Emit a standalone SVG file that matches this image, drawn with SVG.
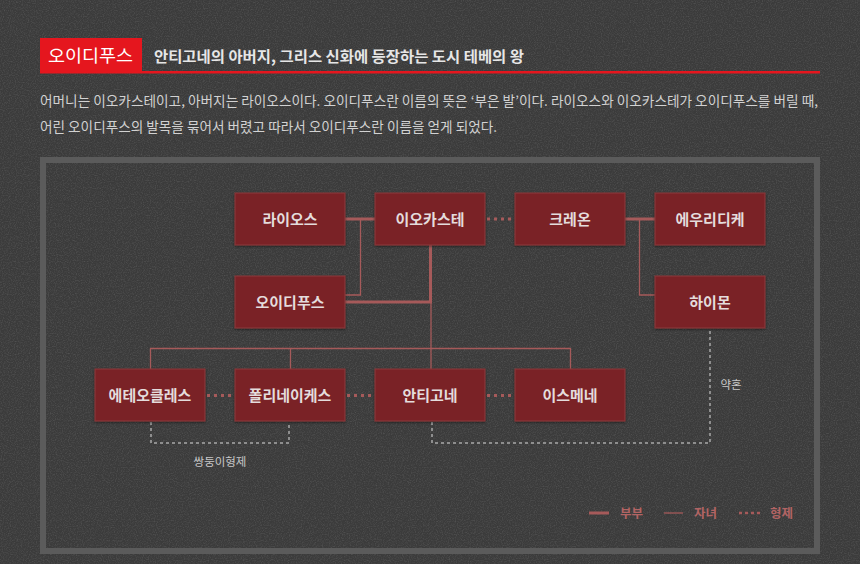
<svg xmlns="http://www.w3.org/2000/svg" width="860" height="564" viewBox="0 0 860 564">
<defs>
<filter id="noise" x="0" y="0" width="100%" height="100%">
<feTurbulence type="fractalNoise" baseFrequency="0.85" numOctaves="2" stitchTiles="stitch" result="t"/>
<feColorMatrix in="t" type="matrix" values="0 0 0 0 1  0 0 0 0 1  0 0 0 0 1  1.2 0 0 0 -0.5"/>
<feComponentTransfer><feFuncA type="linear" slope="0.2"/></feComponentTransfer>
</filter>
<filter id="nshadow" x="-10%" y="-10%" width="120%" height="130%">
<feDropShadow dx="0" dy="1" stdDeviation="0.8" flood-color="#000" flood-opacity="0.5"/>
</filter>
</defs>
<style>
.kr{font-family:"Noto Sans CJK KR","Noto Sans",sans-serif}
.node rect{fill:#7a2226;stroke:#8c3a3b;stroke-width:1}
.node text{font-family:"Noto Sans CJK KR","Noto Sans",sans-serif;font-size:15px;font-weight:bold;fill:#e4dcdc;text-anchor:middle}
.thick{stroke:#a65a5a;stroke-width:3;fill:none}
.thin{stroke:#a65a5a;stroke-width:1.3;fill:none}
.sib{stroke:#a65a5a;stroke-width:3;stroke-dasharray:3 4;fill:none}
.gray{stroke:#8e8e8e;stroke-width:2;stroke-dasharray:3 3;fill:none}
.lbl{font-family:"Noto Sans CJK KR","Noto Sans",sans-serif;font-size:11.5px;fill:#c8c8c8;text-anchor:middle}
.leg{font-family:"Noto Sans CJK KR","Noto Sans",sans-serif;font-size:12.5px;font-weight:bold;fill:#b26464}
</style>
<rect width="860" height="564" fill="#3b3b3b"/>
<rect width="860" height="564" filter="url(#noise)"/>

<g id="header">
<rect x="40" y="38" width="102" height="35" fill="#e5161e"/>
<rect x="40" y="71" width="780" height="2.5" fill="#e5161e"/>
<text x="48" y="62" class="kr" font-size="17.5" fill="#ffffff" textLength="85" lengthAdjust="spacingAndGlyphs">오이디푸스</text>
<text x="154" y="62" class="kr" font-size="15" font-weight="bold" fill="#e6e6e6" textLength="370" lengthAdjust="spacingAndGlyphs">안티고네의 아버지, 그리스 신화에 등장하는 도시 테베의 왕</text>
<text x="40" y="106" class="kr" font-size="13.5" fill="#d2d2d2" textLength="778" lengthAdjust="spacingAndGlyphs">어머니는 이오카스테이고, 아버지는 라이오스이다. 오이디푸스란 이름의 뜻은 ‘부은 발’이다. 라이오스와 이오카스테가 오이디푸스를 버릴 때,</text>
<text x="40" y="132" class="kr" font-size="13.5" fill="#d2d2d2" textLength="457" lengthAdjust="spacingAndGlyphs">어린 오이디푸스의 발목을 묶어서 버렸고 따라서 오이디푸스란 이름을 얻게 되었다.</text>
</g>

<rect x="43" y="160" width="774" height="391" fill="none" stroke="#5b5b5b" stroke-width="6"/>

<g id="connectors">
<line class="thick" x1="345" y1="219" x2="375" y2="219"/>
<line class="thick" x1="625" y1="219" x2="655" y2="219"/>
<line class="sib" x1="487" y1="219" x2="515" y2="219"/>
<polyline class="thin" points="360.5,219 360.5,295 345,295"/>
<polyline class="thin" points="639.5,219 639.5,295 655,295"/>
<polyline class="thick" points="430.5,245 430.5,302 345,302"/>
<line class="thin" x1="431" y1="302" x2="431" y2="348.5"/>
<line class="thin" x1="150.5" y1="348.5" x2="570.5" y2="348.5"/>
<line class="thin" x1="150.5" y1="348" x2="150.5" y2="369"/>
<line class="thin" x1="290.5" y1="348" x2="290.5" y2="369"/>
<line class="thin" x1="431" y1="348" x2="431" y2="369"/>
<line class="thin" x1="570.5" y1="348" x2="570.5" y2="369"/>
<line class="sib" x1="207" y1="395.5" x2="235" y2="395.5"/>
<line class="sib" x1="347" y1="395.5" x2="375" y2="395.5"/>
<line class="sib" x1="487" y1="395.5" x2="515" y2="395.5"/>
<polyline class="gray" points="151,422 151,443 289,443 289,422"/>
<polyline class="gray" points="432,422 432,443 710,443 710,329"/>
<text class="lbl" x="220" y="466">쌍둥이형제</text>
<text class="lbl" x="731" y="389">약혼</text>
</g>

<g id="n-laios" class="node"><rect x="235" y="193" width="110" height="52" filter="url(#nshadow)"/><text x="290" y="224.5">라이오스</text></g>
<g id="n-iokaste" class="node"><rect x="375" y="193" width="110" height="52" filter="url(#nshadow)"/><text x="430" y="224.5">이오카스테</text></g>
<g id="n-kreon" class="node"><rect x="515" y="193" width="110" height="52" filter="url(#nshadow)"/><text x="570" y="224.5">크레온</text></g>
<g id="n-eurydike" class="node"><rect x="655" y="193" width="110" height="52" filter="url(#nshadow)"/><text x="710" y="224.5">에우리디케</text></g>
<g id="n-oidipous" class="node"><rect x="235" y="276" width="110" height="52" filter="url(#nshadow)"/><text x="290" y="307.5">오이디푸스</text></g>
<g id="n-haimon" class="node"><rect x="655" y="276" width="110" height="52" filter="url(#nshadow)"/><text x="710" y="307.5">하이몬</text></g>
<g id="n-eteokles" class="node"><rect x="95" y="369" width="110" height="52" filter="url(#nshadow)"/><text x="150" y="400.5">에테오클레스</text></g>
<g id="n-polyneikes" class="node"><rect x="235" y="369" width="110" height="52" filter="url(#nshadow)"/><text x="290" y="400.5">폴리네이케스</text></g>
<g id="n-antigone" class="node"><rect x="375" y="369" width="110" height="52" filter="url(#nshadow)"/><text x="430" y="400.5">안티고네</text></g>
<g id="n-ismene" class="node"><rect x="515" y="369" width="110" height="52" filter="url(#nshadow)"/><text x="570" y="400.5">이스메네</text></g>

<g id="legend">
<line class="thick" x1="589" y1="513" x2="609" y2="513"/>
<text class="leg" x="620" y="518">부부</text>
<line class="thin" x1="664" y1="513" x2="683" y2="513"/>
<text class="leg" x="694" y="518">자녀</text>
<line class="sib" x1="739" y1="513" x2="761" y2="513" style="stroke-width:2.5;stroke-dasharray:3 3"/>
<text class="leg" x="770" y="518">형제</text>
</g>
</svg>
